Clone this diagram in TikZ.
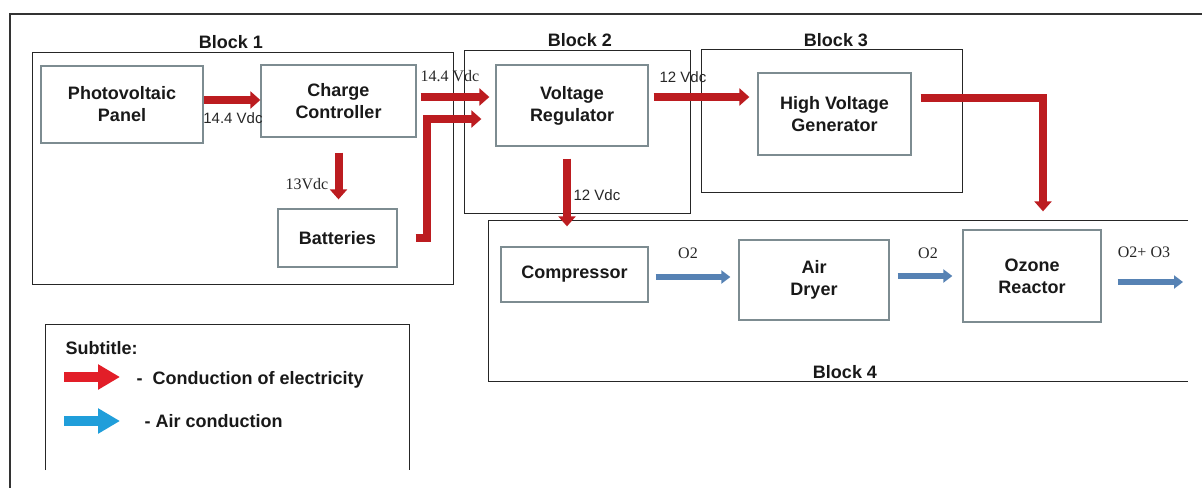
\documentclass[tikz,border=0pt]{standalone}
\usepackage{fontspec}
\setmainfont{Liberation Serif}
\setsansfont{Liberation Sans}
\usetikzlibrary{arrows.meta}

\definecolor{elecred}{RGB}{188,28,32}
\definecolor{airblue}{RGB}{86,130,180}
\definecolor{boxgray}{RGB}{125,140,145}
\definecolor{legred}{RGB}{226,30,40}
\definecolor{legblue}{RGB}{32,158,218}

\begin{document}
\begin{tikzpicture}[x=1pt, y=-1pt,
	unit/.style={draw=boxgray, line width=1.3pt, align=center, inner sep=0pt, text=black!90,
		font=\sffamily\bfseries\fontsize{18}{22}\selectfont},
	blockframe/.style={draw=black!85, line width=1pt},
	blocklabel/.style={font=\sffamily\bfseries\fontsize{18}{22}\selectfont, text=black!90},
	elec/.style={draw=elecred, line width=8pt, -{Triangle[length=10pt,width=17pt]}},
	air/.style={draw=airblue, line width=6pt, -{Triangle[length=9pt,width=13pt]}},
	serlab/.style={font=\fontsize{16}{18}\selectfont, text=black!85},
	sanlab/.style={font=\sffamily\fontsize{15}{18}\selectfont, text=black!85}]
	\useasboundingbox (0,0) rectangle (1202,488);
	% outer frame and blocks
	\draw[black!80, line width=1.2pt] (1202,14) -- (10,14) -- (10,488);
	\draw[blockframe] (32,52) rectangle (453,284);
	\draw[blockframe] (464,50) rectangle (690,213);
	\draw[blockframe] (701,49) rectangle (962,192);
	\draw[blockframe] (1188,220) -- (488,220) -- (488,381) -- (1188,381);
	\node[blocklabel] (b1) at (231,42) {Block 1};
	\node[blocklabel] (b2) at (580,40) {Block 2};
	\node[blocklabel] (b3) at (836,40) {Block 3};
	\node[blocklabel] (b4) at (845,372) {Block 4};
	% units
	\node[unit, minimum width=162, minimum height=77] (pv) at (122,104.5) {Photovoltaic\\Panel};
	\node[unit, minimum width=155, minimum height=72] (cc) at (338.5,101) {Charge\\Controller};
	\node[unit, minimum width=119, minimum height=58] (bat) at (337.5,238) {Batteries};
	\node[unit, minimum width=152, minimum height=81] (vr) at (572,105.5) {Voltage\\Regulator};
	\node[unit, minimum width=153, minimum height=82] (hvg) at (834.5,114) {High Voltage\\Generator};
	\node[unit, minimum width=147, minimum height=55] (comp) at (574.5,274.5) {Compressor};
	\node[unit, minimum width=150, minimum height=80] (dry) at (814,280) {Air\\Dryer};
	\node[unit, minimum width=138, minimum height=92] (ozr) at (1032,276) {Ozone\\Reactor};
	\coordinate (out) at (1183,282);
	% electricity
	\draw[elec] (pv.east |- 0,100) -- (cc.west |- 0,100);
	\draw[elec, shorten <=15pt, shorten >=9pt] (cc.south) -- (cc.south |- bat.north);
	\draw[elec, shorten <=4pt, shorten >=6pt] (cc.east |- 0,97) -- (vr.west |- 0,97);
	\draw[elec, shorten <=18pt] (bat.east) -- ++(29,0) |- ([xshift=-14pt]vr.west |- 0,119);
	\draw[elec, shorten <=5pt, shorten >=8pt] (vr.east |- 0,97) -- (hvg.west |- 0,97);
	\draw[elec, shorten <=12pt, shorten >=20pt] (567,0 |- vr.south) -- (567,0 |- comp.north);
	\draw[elec, shorten >=18pt] ([xshift=9pt]hvg.east |- 0,98) -| ([xshift=11pt]ozr.north);
	\node[sanlab] (v1) at (233,118) {14.4 Vdc};
	\node[serlab] (v2) at (307,184) {13Vdc};
	\node[serlab] (v3) at (450,76) {14.4 Vdc};
	\node[sanlab] (v4) at (683,77) {12 Vdc};
	\node[sanlab] (v5) at (597,195) {12 Vdc};
	% air
	\draw[air, shorten <=7pt, shorten >=8pt] (comp.east |- 0,277) -- (dry.west |- 0,277);
	\draw[air, shorten <=8pt, shorten >=10pt] (dry.east |- 0,276) -- (ozr.west |- 0,276);
	\draw[air, shorten <=16pt] (ozr.east |- out) -- (out);
	\node[serlab] (o1) at (688,253) {O2};
	\node[serlab] (o2) at (928,253) {O2};
	\node[serlab] (o3) at (1144,252) {O2+ O3};
	% subtitle
	\draw[blockframe] (45,470) -- (45,324) -- (409,324) -- (409,470);
	\node[blocklabel, anchor=west] (subt) at (62,348) {Subtitle:};
	\coordinate (lr0) at (64,377);
	\coordinate (lr1) at (120,377);
	\coordinate (lb0) at (64,421);
	\coordinate (lb1) at (120,421);
	\draw[draw=legred, line width=10pt, -{Triangle[length=22pt,width=24pt]}] (lr0) -- (lr1);
	\draw[draw=legblue, line width=10pt, -{Triangle[length=22pt,width=24pt]}] (lb0) -- (lb1);
	\node[blocklabel, anchor=west] (le) at (133,380) {-~~Conduction of electricity};
	\node[blocklabel, anchor=west] (la) at (141,421) {- Air conduction};
\end{tikzpicture}
\end{document}
